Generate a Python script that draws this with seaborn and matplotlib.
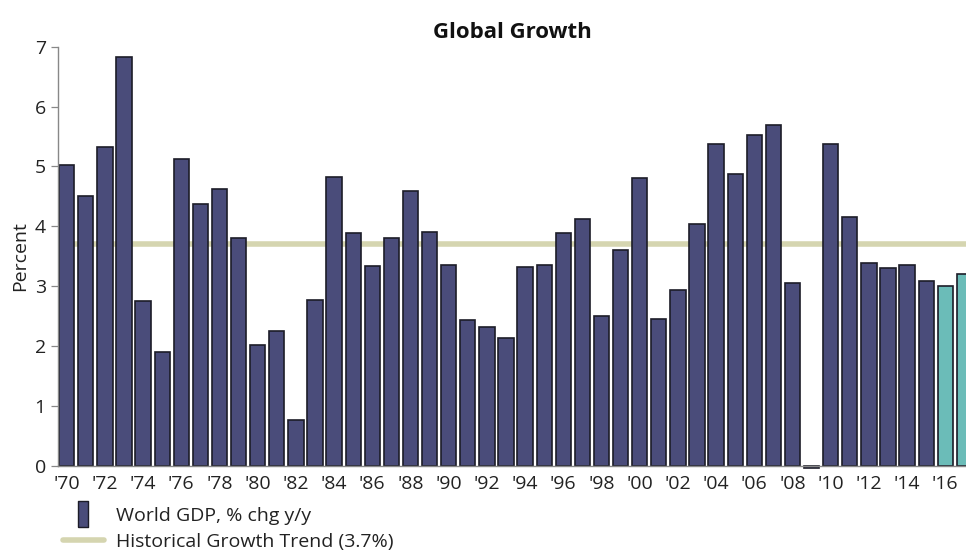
import numpy as np
import pandas as pd
import matplotlib
matplotlib.use("Agg")
import matplotlib.pyplot as plt
from matplotlib.lines import Line2D
import seaborn as sns

# ---- data ----
years = list(range(1970, 2018))
gdp_growth = [5.02, 4.50, 5.32, 6.83, 2.75, 1.90, 5.12, 4.37, 4.62, 3.80,
              2.02, 2.25, 0.76, 2.77, 4.82, 3.89, 3.34, 3.80, 4.59, 3.91,
              3.36, 2.43, 2.32, 2.13, 3.32, 3.36, 3.89, 4.12, 2.50, 3.61,
              4.80, 2.45, 2.93, 4.03, 5.37, 4.87, 5.53, 5.69, 3.05, -0.04,
              5.37, 4.16, 3.39, 3.30, 3.36, 3.09, 3.00, 3.20]
forecast_years = [2016, 2017]
trend_value = 3.7
title = "Global Growth"
ylabel = "Percent"
legend_labels = ["World GDP, % chg y/y", "Historical Growth Trend (3.7%)"]
yticks = [0, 1, 2, 3, 4, 5, 6, 7]

NAVY = "#4a4c7a"
TEAL = "#6bbcb8"
TREND = "#d5d5b0"
EDGE = "#1c1c28"
TXT = "#222222"
FS = 14.0

sns.set_theme(style="white")
plt.rcParams["font.family"] = ["Open Sans", "DejaVu Sans"]

df = pd.DataFrame({"year": [str(y) for y in years], "growth": gdp_growth})
colors = [TEAL if y in forecast_years else NAVY for y in years]

fig = plt.figure(figsize=(9.66, 5.53), dpi=100)
W, H = 966, 553
ax = fig.add_axes([58.3 / W, (H - 465.7) / H, (W - 58.3) / W, (465.7 - 46.7) / H])

ax.axhline(trend_value, color=TREND, lw=4.0, zorder=0.5)
sns.barplot(data=df, x="year", y="growth", hue="year", palette=colors,
            legend=False, width=0.8, edgecolor=EDGE, linewidth=1.2,
            saturation=1, ax=ax, zorder=2)
for p in ax.patches:
    if p.get_height() < 0:
        p.set_clip_on(False)

ax.set_yticks(yticks)
ax.set_yticklabels([str(v) for v in yticks])

major = np.arange(0, len(years), 2)
ax.set_xticks(major)
ax.set_xticklabels(["'" + str(years[i])[2:] for i in major])
ax.set_xticks(np.arange(len(years) + 1) - 0.44, minor=True)
ax.set_ylim(0, 7)
ax.set_xlim(-0.44, -0.44 + (W - 58.3) / 19.1)

ax.tick_params(axis="x", which="major", length=0, pad=7, labelsize=FS, colors=TXT)
ax.tick_params(axis="x", which="minor", length=5, width=0.9, color="#888888", direction="out")
ax.tick_params(axis="y", which="major", length=5, width=0.9, color="#888888", direction="out",
               labelsize=FS, labelcolor=TXT, pad=4, left=True)

for s in ["top", "right"]:
    ax.spines[s].set_visible(False)
for s in ["left", "bottom"]:
    ax.spines[s].set_color("#888888")
    ax.spines[s].set_linewidth(1.0)

ax.set_xlabel("")
ax.set_ylabel(ylabel, fontsize=FS, color=TXT, labelpad=4)
ax.set_title(title, fontsize=16, fontweight="bold", color="#111111", pad=6)

rect_marker = [(-0.37, -1), (0.37, -1), (0.37, 1), (-0.37, 1), (-0.37, -1)]
h1 = Line2D([], [], marker=rect_marker, linestyle="none", markersize=19,
            markerfacecolor=NAVY, markeredgecolor=EDGE, markeredgewidth=1.0)
h2 = Line2D([], [], color=TREND, lw=4.0)
fig.legend([h1, h2], legend_labels, loc="upper left",
           bbox_to_anchor=(63 / W, 1 - 507 / H), frameon=False,
           fontsize=FS, handlelength=2.1, handletextpad=0.6, labelspacing=0.4,
           borderaxespad=0, borderpad=0, labelcolor=TXT)

fig.savefig("out.png", dpi=100)
